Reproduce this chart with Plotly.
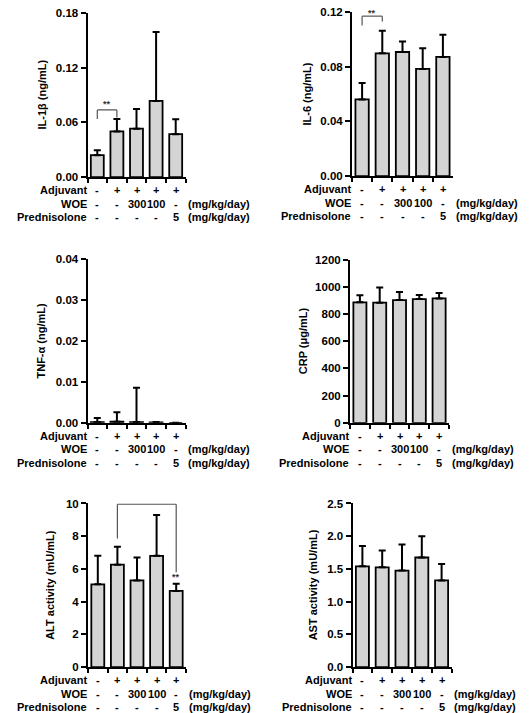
import plotly.graph_objects as go

W, H = 529, 713

groups = ["Normal", "Adjuvant", "WOE 300", "WOE 100", "Prednisolone 5"]
adjuvant_row = ["-", "+", "+", "+", "+"]
woe_row = ["-", "-", "300", "100", "-"]
pred_row = ["-", "-", "-", "-", "5"]
row_labels = ["Adjuvant", "WOE", "Prednisolone"]
unit_labels = ["", "(mg/kg/day)", "(mg/kg/day)"]

il1b_mean = [0.024, 0.050, 0.053, 0.0835, 0.047]
il1b_sd = [0.0055, 0.0137, 0.0216, 0.0755, 0.0165]
il6_mean = [0.056, 0.0897, 0.0907, 0.0783, 0.0871]
il6_sd = [0.012, 0.0165, 0.0076, 0.0152, 0.0162]
tnf_mean = [0.0002, 0.0003, 0.0002, 0.0001, 0.0]
tnf_sd = [0.001, 0.0023, 0.0084, 0.0001, 0.0]
crp_mean = [886, 884, 903, 910, 915]
crp_sd = [53, 111, 60, 31, 39]
alt_mean = [5.06, 6.26, 5.3, 6.8, 4.66]
alt_sd = [1.74, 1.1, 1.4, 2.5, 0.44]
ast_mean = [1.54, 1.525, 1.475, 1.675, 1.325]
ast_sd = [0.31, 0.255, 0.4, 0.325, 0.25]

FONT = "Liberation Sans, Arial, sans-serif"

# panel layout in pixels: (x_left, x_right, y_top, y_bottom)
panels = [
    dict(title="IL-1β (ng/mL)", mean=il1b_mean, sd=il1b_sd, ymax=0.18, dtick=0.06, fmt=".2f",
         box=(87.5, 185.5, 7, 174), title_x=41.5),
    dict(title="IL-6 (ng/mL)", mean=il6_mean, sd=il6_sd, ymax=0.12, dtick=0.04, fmt=".2f",
         box=(352, 453, 6, 173), title_x=306.5),
    dict(title="TNF-α (ng/mL)", mean=tnf_mean, sd=tnf_sd, ymax=0.04, dtick=0.01, fmt=".2f",
         box=(87.5, 185.5, 257.5, 424), title_x=41.5),
    dict(title="CRP (μg/mL)", mean=crp_mean, sd=crp_sd, ymax=1200, dtick=200, fmt="d",
         box=(350, 449, 258, 424), title_x=303),
    dict(title="ALT activity (mU/mL)", mean=alt_mean, sd=alt_sd, ymax=10, dtick=2, fmt="d",
         box=(88, 186, 506, 672.5), title_x=50.5),
    dict(title="AST activity (mU/mL)", mean=ast_mean, sd=ast_sd, ymax=2.5, dtick=0.5, fmt=".1f",
         box=(352.5, 451.5, 506, 672.5), title_x=313),
]

# significance brackets: (panel, cat_a, cat_b, top, leg_a_end, leg_b_end, star_x, star_y)
sig = [
    (0, 0, 1, 0.0736, 0.0636, 0.0654, 0.5, 0.0797),
    (1, 0, 1, 0.1169, 0.1100, 0.1130, 0.5, 0.1193),
    (4, 1, 4, 9.96, 7.86, 5.8, 4, 5.5),
]

def px_x(p):
    return p / W

def px_y(p):
    return 1 - p / H

fig = go.Figure()
annotations = []
shapes = []
row_offsets = [13.5, 27.0, 40.5]

for k, p in enumerate(panels):
    n = "" if k == 0 else str(k + 1)
    xl, xr, yt, yb = p["box"]
    fig.add_trace(go.Bar(
        x=groups, y=p["mean"], width=0.66,
        marker=dict(color="#d4d4d4", line=dict(color="black", width=1.8)),
        error_y=dict(type="data", array=p["sd"], arrayminus=[0] * 5, symmetric=False,
                     color="black", thickness=2, width=3.5),
        xaxis="x" + n, yaxis="y" + n, showlegend=False,
    ))
    fig.layout["xaxis" + n] = dict(
        domain=[px_x(xl), px_x(xr)], anchor="y" + n, type="category",
        showticklabels=False, ticks="outside", tickson="boundaries", ticklen=4,
        tickwidth=2, tickcolor="black", showline=True, linecolor="black", linewidth=2,
        showgrid=False, zeroline=False, range=[-0.5, 4.5], fixedrange=True,
    )
    fig.layout["yaxis" + n] = dict(
        domain=[px_y(yb), px_y(yt)], anchor="x" + n, range=[0, p["ymax"]],
        dtick=p["dtick"], tick0=0, tickformat=p["fmt"], ticks="outside", ticklen=5,
        tickwidth=2, tickcolor="black", showline=True, linecolor="black", linewidth=2,
        showgrid=False, zeroline=False,
        tickfont=dict(family=FONT, size=11.5, color="black", weight="bold"),
    )
    # y title
    annotations.append(dict(
        text=p["title"], xref="paper", yref="paper", x=px_x(p["title_x"]),
        y=px_y((yt + yb) / 2), xanchor="center", yanchor="middle", textangle=-90,
        showarrow=False, font=dict(family=FONT, size=11, color="black", weight="bold"),
    ))
    # treatment table
    rows = [adjuvant_row, woe_row, pred_row]
    for r, (vals, lab, unit) in enumerate(zip(rows, row_labels, unit_labels)):
        yy = px_y(yb + row_offsets[r])
        annotations.append(dict(
            text=lab, xref="paper", yref="paper", x=px_x(xl + 1), y=yy,
            xanchor="right", yanchor="middle", showarrow=False,
            font=dict(family=FONT, size=11, color="black", weight="bold"),
        ))
        for g, v in zip(groups, vals):
            annotations.append(dict(
                text=v, xref="x" + n, yref="paper", x=g, y=yy,
                xanchor="center", yanchor="middle", showarrow=False,
                font=dict(family=FONT, size=11, color="black", weight="bold"),
            ))
        if unit:
            annotations.append(dict(
                text=unit, xref="paper", yref="paper", x=px_x(xr + 0.5), y=yy,
                xanchor="left", yanchor="middle", showarrow=False,
                font=dict(family=FONT, size=11, color="black", weight="bold"),
            ))

for (k, a, b, top, la, lb, sx, sy) in sig:
    n = "" if k == 0 else str(k + 1)
    line = dict(color="#555555", width=1.2)
    shapes.append(dict(type="line", xref="x" + n, yref="y" + n, x0=a, x1=b, y0=top, y1=top, line=line))
    shapes.append(dict(type="line", xref="x" + n, yref="y" + n, x0=a, x1=a, y0=top, y1=la, line=line))
    shapes.append(dict(type="line", xref="x" + n, yref="y" + n, x0=b, x1=b, y0=top, y1=lb, line=line))
    annotations.append(dict(
        text="**", xref="x" + n, yref="y" + n, x=sx, y=sy, xanchor="center",
        yanchor="middle", showarrow=False,
        font=dict(family=FONT, size=9, color="#333333", weight="bold"),
    ))

fig.update_layout(
    width=W, height=H, margin=dict(l=0, r=0, t=0, b=0),
    paper_bgcolor="white", plot_bgcolor="white",
    annotations=annotations, shapes=shapes, bargap=0.3,
)

fig.write_html("out.html")
